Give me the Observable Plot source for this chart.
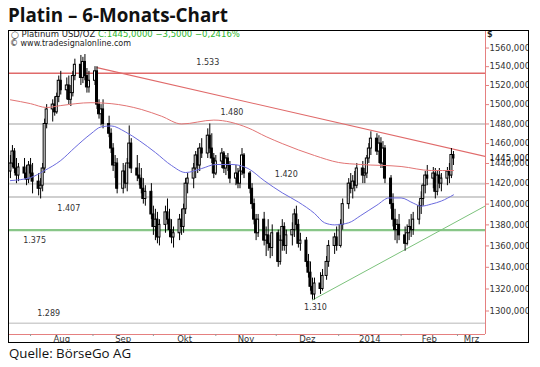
<!DOCTYPE html>
<html><head><meta charset="utf-8">
<script src="https://cdn.jsdelivr.net/npm/d3@7"></script>
<script src="https://cdn.jsdelivr.net/npm/@observablehq/plot@0.6"></script>
<style>
html,body{margin:0;padding:0;background:#fff}
body{width:540px;height:367px;overflow:hidden;position:relative}
#title{position:absolute;left:8px;top:6px;font:bold 18.8px/1 "Open Sans",sans-serif;color:#111;white-space:nowrap}
#box{position:absolute;left:8px;top:30px;width:519px;height:311px;border:1px solid #000;overflow:hidden;background:#fff}
#box svg{position:absolute;left:0;top:0}
.hdr{position:absolute;font:8px/1 "DejaVu Sans",sans-serif;color:#222;white-space:nowrap;z-index:2}
#src{position:absolute;left:9px;top:347px;font:13.3px/1 "Open Sans",sans-serif;color:#111;white-space:nowrap}
</style></head>
<body>
<div id="title">Platin – 6-Monats-Chart</div>
<div id="box">
  <div class="hdr" id="h1" style="left:2px;top:-1px;font-size:8.5px"></div>
  <div class="hdr" id="h2" style="left:1px;top:9px">© www.tradesignalonline.com</div>
  <div class="hdr" style="left:478px;top:0px;font-weight:bold">$</div>
</div>
<div id="src">Quelle: BörseGo AG</div>
<script>
// ---------- data ----------
const instrument = "Platinum USD/OZ";
const lastClose = 1445.0, change = -3.5, changePct = -0.2416;

const dates = [
"2013-07-22","2013-07-23","2013-07-24","2013-07-25","2013-07-26",
"2013-07-29","2013-07-30","2013-07-31","2013-08-01","2013-08-02",
"2013-08-05","2013-08-06","2013-08-07","2013-08-08","2013-08-09",
"2013-08-12","2013-08-13","2013-08-14","2013-08-15","2013-08-16",
"2013-08-19","2013-08-20","2013-08-21","2013-08-22","2013-08-23",
"2013-08-26","2013-08-27","2013-08-28","2013-08-29","2013-08-30",
"2013-09-02","2013-09-03","2013-09-04","2013-09-05","2013-09-06",
"2013-09-09","2013-09-10","2013-09-11","2013-09-12","2013-09-13",
"2013-09-16","2013-09-17","2013-09-18","2013-09-19","2013-09-20",
"2013-09-23","2013-09-24","2013-09-25","2013-09-26","2013-09-27",
"2013-09-30","2013-10-01","2013-10-02","2013-10-03","2013-10-04",
"2013-10-07","2013-10-08","2013-10-09","2013-10-10","2013-10-11",
"2013-10-14","2013-10-15","2013-10-16","2013-10-17","2013-10-18",
"2013-10-21","2013-10-22","2013-10-23","2013-10-24","2013-10-25",
"2013-10-28","2013-10-29","2013-10-30","2013-10-31","2013-11-01",
"2013-11-04","2013-11-05","2013-11-06","2013-11-07","2013-11-08",
"2013-11-11","2013-11-12","2013-11-13","2013-11-14","2013-11-15",
"2013-11-18","2013-11-19","2013-11-20","2013-11-21","2013-11-22",
"2013-11-25","2013-11-26","2013-11-27","2013-11-28","2013-11-29",
"2013-12-02","2013-12-03","2013-12-04","2013-12-05","2013-12-06",
"2013-12-09","2013-12-10","2013-12-11","2013-12-12","2013-12-13",
"2013-12-16","2013-12-17","2013-12-18","2013-12-19","2013-12-20",
"2013-12-23","2013-12-24","2013-12-26","2013-12-27",
"2013-12-30","2013-12-31","2014-01-02","2014-01-03",
"2014-01-06","2014-01-07","2014-01-08","2014-01-09","2014-01-10",
"2014-01-13","2014-01-14","2014-01-15","2014-01-16","2014-01-17",
"2014-01-20","2014-01-21","2014-01-22","2014-01-23","2014-01-24",
"2014-01-27","2014-01-28","2014-01-29","2014-01-30","2014-01-31",
"2014-02-03","2014-02-04","2014-02-05","2014-02-06","2014-02-07",
"2014-02-10","2014-02-11","2014-02-12","2014-02-13","2014-02-14",
"2014-02-17","2014-02-18","2014-02-19","2014-02-20","2014-02-21",
"2014-02-24","2014-02-25","2014-02-26","2014-02-27"];

const open = [
1432,1440,1452,1435,1428, 1436,1430,1424,1438,1430, 1422,1415,1418,1435,1480,
1495,1500,1492,1508,1525, 1515,1520,1505,1512,1530, 1542,1528,1545,1530,1518,
1525,1535,1500,1490,1495, 1480,1470,1455,1438,1440, 1415,1432,1420,1440,1460,
1435,1428,1425,1415,1405, 1412,1390,1378,1385,1368, 1380,1392,1385,1375,1368,
1372,1385,1378,1395,1420, 1425,1435,1448,1438,1455, 1450,1468,1455,1445,1430,
1442,1450,1435,1445,1438, 1425,1430,1420,1432,1448, 1430,1415,1400,1385,1372,
1385,1365,1370,1362,1358, 1372,1345,1365,1378,1360, 1370,1375,1390,1380,1362,
1365,1345,1335,1322,1315, 1325,1320,1332,1345, 1360,1368,1360,1380,
1400,1420,1415,1422,1418, 1435,1428,1430,1445,1455, 1465,1452,1460,1440,1455,
1425,1400,1385,1375,1380, 1370,1362,1372,1378,1375, 1385,1398,1405,1418,1428,
1425,1430,1412,1428,1420, 1425,1432,1428,1448.5];
const high = [
1448,1458,1455,1445,1440, 1445,1438,1442,1445,1440, 1430,1425,1440,1485,1500,
1505,1508,1512,1530,1535, 1528,1530,1520,1535,1548, 1552,1550,1553,1538,1535,
1540,1540,1505,1500,1505, 1488,1475,1460,1448,1445, 1440,1438,1445,1478,1465,
1448,1440,1435,1425,1418, 1420,1398,1395,1392,1385, 1398,1405,1395,1385,1378,
1390,1395,1400,1425,1430, 1440,1452,1455,1460,1465, 1475,1480,1470,1450,1448,
1455,1452,1448,1450,1442, 1438,1435,1438,1455,1450, 1432,1420,1405,1390,1390,
1392,1378,1385,1370,1380, 1375,1370,1385,1382,1375, 1382,1395,1398,1385,1372,
1368,1352,1345,1330,1330, 1335,1338,1350,1365, 1372,1378,1385,1405,
1425,1430,1428,1432,1440, 1442,1435,1448,1460,1472, 1470,1468,1466,1462,1458,
1428,1410,1395,1385,1390, 1378,1380,1385,1390,1392, 1402,1412,1420,1432,1438,
1436,1435,1432,1435,1430, 1436,1440,1455,1452];
const low = [
1425,1436,1430,1420,1422, 1425,1418,1420,1425,1410, 1408,1405,1412,1430,1475,
1482,1488,1490,1502,1510, 1505,1500,1498,1508,1525, 1520,1522,1525,1512,1512,
1520,1495,1485,1478,1475, 1466,1450,1432,1425,1410, 1410,1415,1412,1435,1430,
1422,1418,1410,1400,1398, 1385,1370,1365,1362,1360, 1372,1380,1368,1362,1358,
1365,1370,1372,1390,1410, 1415,1425,1430,1432,1445, 1445,1450,1440,1425,1428,
1435,1430,1428,1432,1420, 1418,1415,1415,1428,1425, 1410,1395,1380,1365,1368,
1360,1350,1355,1348,1350, 1340,1342,1355,1355,1352, 1360,1368,1375,1358,1355,
1340,1330,1318,1310,1310, 1315,1318,1328,1340, 1352,1355,1358,1375,
1395,1410,1405,1412,1415, 1420,1420,1425,1440,1448, 1448,1440,1435,1435,1420,
1395,1378,1365,1362,1365, 1355,1360,1365,1368,1370, 1380,1390,1398,1410,1418,
1415,1405,1408,1415,1412, 1418,1420,1425,1438];
const close = [
1440,1452,1435,1428,1436, 1430,1424,1438,1430,1422, 1415,1418,1435,1480,1495,
1500,1492,1508,1525,1515, 1520,1505,1512,1530,1542, 1528,1545,1530,1518,1525,
1535,1500,1490,1495,1480, 1470,1455,1438,1440,1415, 1432,1420,1440,1460,1435,
1428,1425,1415,1405,1412, 1390,1378,1385,1368,1380, 1392,1385,1375,1368,1372,
1385,1378,1395,1420,1425, 1435,1448,1438,1455,1450, 1468,1455,1445,1430,1442,
1450,1435,1445,1438,1425, 1430,1420,1432,1448,1430, 1415,1400,1385,1372,1385,
1365,1370,1362,1358,1372, 1345,1365,1378,1360,1370, 1375,1390,1380,1362,1365,
1345,1335,1322,1315,1325, 1320,1332,1345,1360, 1368,1360,1380,1400,
1420,1415,1422,1418,1435, 1428,1430,1445,1455,1465, 1452,1460,1440,1455,1425,
1400,1385,1375,1380,1370, 1362,1372,1378,1375,1385, 1398,1405,1418,1428,1425,
1430,1412,1428,1420,1425, 1432,1428,1448.5,1445];

// moving averages
const redMADates = ["2013-07-22","2013-08-01","2013-08-09","2013-08-16","2013-08-31","2013-09-10","2013-09-25","2013-10-05","2013-10-15","2013-10-31","2013-11-17","2013-11-26","2013-12-04","2013-12-20","2014-01-01","2014-01-12","2014-02-01","2014-02-16","2014-02-27"];
const redMAValues = [1505,1501,1497,1499,1502,1501,1495,1488,1480,1484,1476,1467,1460,1448,1441,1439,1437,1433,1433];
const blueMADates = ["2013-07-22","2013-08-01","2013-08-08","2013-08-16","2013-08-23","2013-08-31","2013-09-05","2013-09-10","2013-09-17","2013-09-24","2013-10-02","2013-10-10","2013-10-17","2013-10-25","2013-11-01","2013-11-09","2013-11-17","2013-11-25","2013-12-04","2013-12-12","2013-12-20","2013-12-25","2013-12-30","2014-01-06","2014-01-12","2014-01-20","2014-01-26","2014-02-01","2014-02-07","2014-02-11","2014-02-16","2014-02-21","2014-02-27"];
const blueMAValues = [1423,1426,1433,1443,1456,1470,1477,1478,1472,1463,1451,1438,1431,1435,1439,1439,1435,1423,1411,1402,1391,1382,1380,1382,1389,1399,1406,1406,1401,1398,1400,1403,1409];

// horizontal levels and trend lines
const levelValues = [1533, 1480, 1420, 1407, 1375, 1289];
const levelLabels = ["1.533", "1.480", "1.420", "1.407", "1.375", "1.289"];
const resistanceDates = ["2013-09-03", "2014-03-16"];
const resistanceValues = [1539, 1446.5];
const supportDates = ["2013-12-19", "2014-03-16"];
const supportValues = [1310, 1399.5];
const lowLabel = "1.310", lowDate = "2013-12-20T12:00Z", lowValue = 1310;

// axes
const yTicks = [1300,1320,1340,1360,1380,1400,1420,1440,1460,1480,1500,1520,1540,1560];
const monthStarts = ["2013-08-01","2013-09-01","2013-10-01","2013-11-01","2013-12-01","2014-01-01","2014-02-01","2014-03-01"];
const monthNames = ["Aug","Sep","Okt","Nov","Dez","2014","Feb","Mrz"];

// ---------- layout (not data) ----------
const xDomain = [new Date("2013-07-21T13:00Z"), new Date("2014-03-14T22:00Z")];
const yDomain = [1279, 1578];
const levelStyle = [
  {stroke:"#e06a6a", w:1.3, at:"2013-10-28", dy:-11},
  {stroke:"#cfcfcf", w:2,   at:"2013-11-09", dy:-11.5},
  {stroke:"#cfcfcf", w:2,   at:"2013-12-06", dy:-9.5},
  {stroke:"#cfcfcf", w:2,   at:"2013-08-20", dy:11.5},
  {stroke:"#88c688", w:2.2, at:"2013-08-03", dy:10},
  {stroke:"#cfcfcf", w:1.5, at:"2013-08-10", dy:-10}
];

const parse = s => new Date(s.length > 10 ? s : s + "T00:00Z");
const candles = dates.map((d, i) => ({date: parse(d), o: open[i], h: high[i], l: low[i], c: close[i]}));
const up = candles.filter(d => d.c >= d.o), down = candles.filter(d => d.c < d.o);
const half = 12 * 3600 * 1000;
const redMA = redMADates.map((d, i) => ({date: parse(d), v: redMAValues[i]}));
const blueMA = blueMADates.map((d, i) => ({date: parse(d), v: blueMAValues[i]}));
const resistance = resistanceDates.map((d, i) => ({date: parse(d), v: resistanceValues[i]}));
const support = supportDates.map((d, i) => ({date: parse(d), v: supportValues[i]}));
const levels = levelValues.map((v, i) => ({v, label: levelLabels[i], ...levelStyle[i], date: parse(levelStyle[i].at)}));
const mStarts = monthStarts.map(parse);
const monthLabelData = mStarts.map((d, i) => {
  const next = i + 1 < mStarts.length ? mStarts[i + 1] : xDomain[1];
  const end = next > xDomain[1] ? xDomain[1] : next;
  return {date: new Date((+d + +end) / 2), text: monthNames[i]};
});
const fmt = v => d3.format(".3f")(v).replace(".", ",");
const fmt4 = v => d3.format(".4f")(v).replace(".", ",");

document.getElementById("h1").innerHTML =
  `<span style="font-size:7px">&#9711;</span> ${instrument} <span style="color:#2db52d">C:${fmt4(lastClose)} ${fmt4(change)} ${fmt4(changePct)}%</span>`;

const chart = Plot.plot({
  width: 519, height: 311,
  marginLeft: 0, marginTop: 0, marginRight: 43, marginBottom: 8,
  style: {fontFamily: "DejaVu Sans", fontSize: "8.5px", background: "transparent", overflow: "visible"},
  x: {type: "utc", domain: xDomain},
  y: {type: "log", domain: yDomain},
  marks: [
    ...levels.map(l => Plot.ruleY([l.v], {stroke: l.stroke, strokeWidth: l.w})),
    Plot.line(resistance, {x: "date", y: "v", stroke: "#e06a6a", strokeWidth: 1.1, clip: true}),
    Plot.line(support, {x: "date", y: "v", stroke: "#7cc27c", strokeWidth: 1, clip: true}),
    Plot.text(levels, {x: "date", y: "v", text: "label", fill: "#333", fontSize: 8}),
    Plot.ruleX(candles, {x: "date", y1: "l", y2: "h", stroke: "#000", strokeWidth: 1}),
    Plot.rect(down, {x1: d => new Date(+d.date - half), x2: d => new Date(+d.date + half), y1: "o", y2: "c", fill: "#000", stroke: "#000", strokeWidth: 1}),
    Plot.rect(up, {x1: d => new Date(+d.date - half), x2: d => new Date(+d.date + half), y1: "o", y2: "c", fill: "#fff", stroke: "#000", strokeWidth: 1}),
    Plot.line(redMA, {x: "date", y: "v", stroke: "#e27474", strokeWidth: 1, curve: "monotone-x"}),
    Plot.line(blueMA, {x: "date", y: "v", stroke: "#6b6bde", strokeWidth: 1, curve: "monotone-x"}),
    Plot.text([lowValue], {x: () => parse(lowDate), y: d => d, text: () => lowLabel, dy: 7, fill: "#333", fontSize: 8}),
    Plot.ruleX([xDomain[1]], {stroke: "#e58080", strokeWidth: 1}),
    Plot.ruleY([yDomain[0]], {stroke: "#e58080", strokeWidth: 1}),
    Plot.axisY(yTicks, {anchor: "right", tickSize: 3, tickPadding: 1, tickFormat: fmt, stroke: "#e58080", fill: "#333", fontSize: 8.5}),
    Plot.axisX(mStarts, {anchor: "bottom", tickSize: 2, tickFormat: () => "", stroke: "#999"}),
    Plot.text(monthLabelData, {x: "date", text: "text", frameAnchor: "bottom", lineAnchor: "top", dy: 1, fill: "#333", fontSize: 8.5}),
    Plot.text([lastClose], {x: () => xDomain[1], y: d => d, text: d => fmt(d), textAnchor: "start", dx: 4, fill: "#111", fontSize: 8.5, ariaLabel: "price tag"})
  ]
});
document.getElementById("box").appendChild(chart);

// level label offsets
const levelTextGroup = [...chart.querySelectorAll('g[aria-label="text"]')][0];
if (levelTextGroup) {
  levelTextGroup.querySelectorAll("text").forEach((t, i) => {
    const tr = t.getAttribute("transform") || "";
    t.setAttribute("transform", tr + ` translate(0,${levels[i].dy})`);
  });
}
// price tag box
const tag = chart.querySelector('g[aria-label="price tag"] text');
if (tag) {
  const bb = tag.getBBox();
  const r = document.createElementNS("http://www.w3.org/2000/svg", "rect");
  r.setAttribute("x", bb.x - 3); r.setAttribute("y", bb.y - 1);
  r.setAttribute("width", bb.width + 8); r.setAttribute("height", bb.height + 2);
  r.setAttribute("rx", 3);
  r.setAttribute("fill", "#efefef"); r.setAttribute("stroke", "#8a8a8a");
  if (tag.getAttribute("transform")) r.setAttribute("transform", tag.getAttribute("transform"));
  tag.parentNode.insertBefore(r, tag);
}
</script>
</body></html>
